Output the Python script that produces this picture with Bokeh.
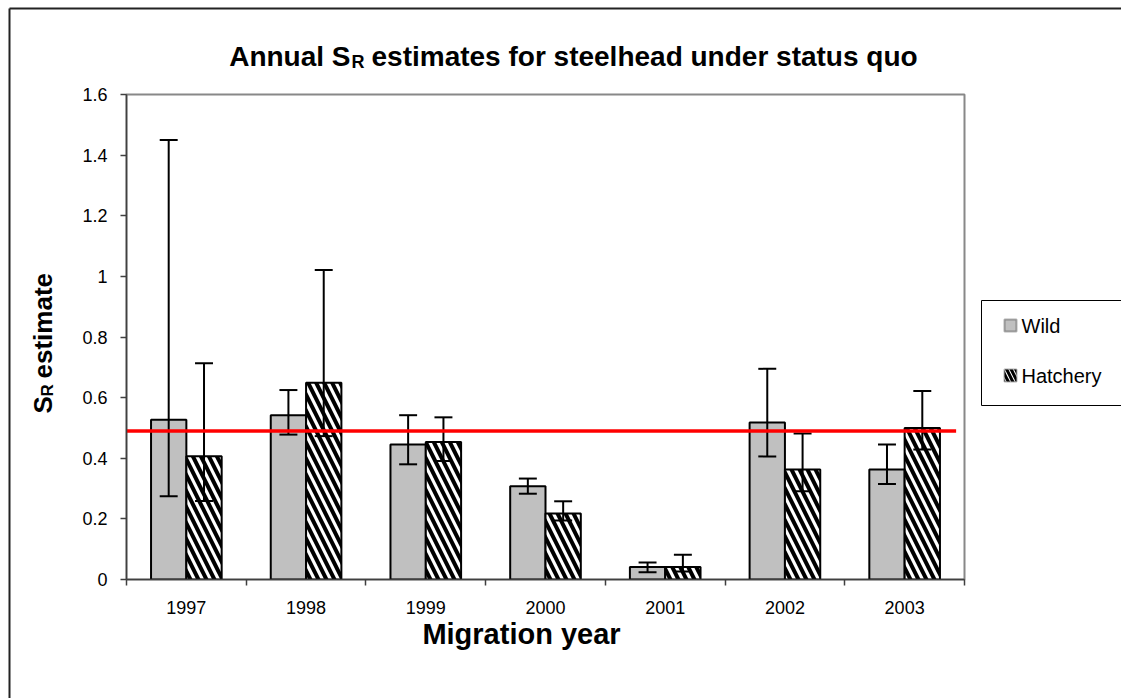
import math
from bokeh.plotting import figure
from bokeh.models import Range1d, FixedTicker, NumeralTickFormatter, Label, BoxAnnotation
from bokeh.embed import file_html
from bokeh.resources import INLINE

# ---------------- data ----------------
years = ["1997", "1998", "1999", "2000", "2001", "2002", "2003"]
wild = [0.527, 0.542, 0.445, 0.308, 0.041, 0.518, 0.363]
wild_lo = [0.275, 0.478, 0.380, 0.283, 0.024, 0.406, 0.315]
wild_hi = [1.45, 0.625, 0.542, 0.333, 0.056, 0.695, 0.445]
hatch = [0.407, 0.649, 0.454, 0.218, 0.041, 0.363, 0.500]
hatch_lo = [0.259, 0.473, 0.391, 0.195, 0.026, 0.291, 0.429]
hatch_hi = [0.713, 1.021, 0.535, 0.258, 0.082, 0.482, 0.622]
reference_level = 0.49
y_ticks = [0, 0.2, 0.4, 0.6, 0.8, 1.0, 1.2, 1.4, 1.6]
series_names = ["Wild", "Hatchery"]
title_parts = ["Annual S", "R", "estimates for steelhead under status quo"]
x_title = "Migration year"
y_title_parts = ["S", "R", "estimate"]

FONT = "Liberation Sans"
W, H = 1121, 698

# ---------------- background figure: titles, legend, chart border ----------------
bg = figure(width=W, height=H, output_backend="svg", toolbar_location=None,
            x_range=Range1d(0, W), y_range=Range1d(H, 0),
            min_border=0, min_border_left=0, min_border_right=0,
            min_border_top=0, min_border_bottom=0,
            styles={"position": "absolute", "left": "0px", "top": "0px"})
bg.axis.visible = False
bg.grid.visible = False
bg.outline_line_color = None
bg.background_fill_color = "white"
bg.border_fill_color = "white"

# chart-area border (only left and top edges fall inside the window)
bg.segment(x0=[9, 9], y0=[8, 8], x1=[9, 1400], y1=[900, 8],
           line_color="#222222", line_width=2)

# chart title with subscript
bg.add_layout(Label(x=350, y=56, text=title_parts[0], text_align="right",
                    text_baseline="alphabetic", text_font=FONT, text_font_style="bold",
                    text_font_size="28px", text_color="black"))
bg.add_layout(Label(x=351, y=61, text=title_parts[1], text_align="left",
                    text_baseline="alphabetic", text_font=FONT, text_font_style="bold",
                    text_font_size="18px", text_color="black"))
bg.add_layout(Label(x=371, y=56, text=title_parts[2], text_align="left",
                    text_baseline="alphabetic", text_font=FONT, text_font_style="bold",
                    text_font_size="28px", text_color="black"))

# x axis title
bg.add_layout(Label(x=521, y=633, text=x_title, text_align="center", text_baseline="middle",
                    text_font=FONT, text_font_style="bold", text_font_size="29px",
                    text_color="black"))

# y axis title (rotated) with subscript
bg.add_layout(Label(x=42, y=413, text=y_title_parts[0], text_align="left",
                    text_baseline="alphabetic", angle=math.pi / 2, text_font=FONT,
                    text_font_style="bold", text_font_size="26px", text_color="black"))
bg.add_layout(Label(x=47, y=396, text=y_title_parts[1], text_align="left",
                    text_baseline="alphabetic", angle=math.pi / 2, text_font=FONT,
                    text_font_style="bold", text_font_size="17px", text_color="black"))
bg.add_layout(Label(x=42, y=378, text=y_title_parts[2], text_align="left",
                    text_baseline="alphabetic", angle=math.pi / 2, text_font=FONT,
                    text_font_style="bold", text_font_size="26px", text_color="black"))

# legend frame (left, top, bottom edges) and entries
bg.segment(x0=[981, 981, 981], y0=[300, 300, 405], x1=[981, 1400, 1400], y1=[405, 300, 405],
           line_color="black", line_width=1)
bg.add_layout(BoxAnnotation(left=1004, right=1016, top=319, bottom=331,
                            fill_color="#C0C0C0", fill_alpha=1, line_color="black", line_width=2))
bg.add_layout(BoxAnnotation(left=1004, right=1016, top=369, bottom=381,
                            fill_color="white", fill_alpha=1, line_color="black", line_width=2,
                            hatch_pattern="\\", hatch_color="black", hatch_scale=9,
                            hatch_weight=3))
bg.add_layout(Label(x=1021, y=325, text=series_names[0], text_align="left",
                    text_baseline="middle", text_font=FONT, text_font_size="20px",
                    text_color="black"))
bg.add_layout(Label(x=1021, y=375, text=series_names[1], text_align="left",
                    text_baseline="middle", text_font=FONT, text_font_size="20px",
                    text_color="black"))

# ---------------- main plot (overlaid) ----------------
FL, FT, FR, FB = 126, 94, 964, 579
p = figure(width=W, height=H, output_backend="svg", toolbar_location=None,
           x_range=Range1d(0, len(years)), y_range=Range1d(0, 1.6),
           min_border_left=FL, min_border_top=FT,
           min_border_right=W - FR, min_border_bottom=H - FB,
           styles={"position": "absolute", "left": "0px", "top": "0px"})
p.background_fill_alpha = 0
p.border_fill_alpha = 0
p.outline_line_color = "#888888"
p.outline_line_width = 2
p.xgrid.visible = False
p.ygrid.visible = False

n = len(years)
bw = 0.295
xc = [i + 0.5 for i in range(n)]
xw = [c - bw / 2 for c in xc]
xh = [c + bw / 2 for c in xc]

p.vbar(x=xw, top=wild, bottom=0, width=bw, fill_color="#C0C0C0",
       line_color="black", line_width=2)
p.vbar(x=xh, top=hatch, bottom=0, width=bw, fill_color="white",
       line_color="black", line_width=2, hatch_pattern="\\",
       hatch_color="black", hatch_scale=16, hatch_weight=4)

cap = 0.075
for xs, lo, hi in ((xw, wild_lo, wild_hi), (xh, hatch_lo, hatch_hi)):
    p.segment(x0=xs, y0=lo, x1=xs, y1=hi, line_color="black", line_width=2)
    p.segment(x0=[x - cap for x in xs], y0=hi, x1=[x + cap for x in xs], y1=hi,
              line_color="black", line_width=2)
    p.segment(x0=[x - cap for x in xs], y0=lo, x1=[x + cap for x in xs], y1=lo,
              line_color="black", line_width=2)

p.segment(x0=[-0.03], y0=[reference_level], x1=[6.93], y1=[reference_level],
          line_color="#FF0000", line_width=3.5)

ya = p.yaxis[0]
ya.ticker = FixedTicker(ticks=y_ticks)
ya.formatter = NumeralTickFormatter(format="0.[0]")
ya.major_tick_out = 6
ya.major_tick_in = 0
ya.minor_tick_out = 0
ya.minor_tick_in = 0
ya.axis_line_color = "#404040"
ya.axis_line_width = 1.5
ya.major_tick_line_color = "#404040"
ya.major_tick_line_width = 1.5
ya.major_label_standoff = 13
ya.major_label_text_font = FONT
ya.major_label_text_font_size = "18px"
ya.major_label_text_color = "black"

xa = p.xaxis[0]
xa.ticker = FixedTicker(ticks=xc, minor_ticks=list(range(n + 1)))
xa.major_label_overrides = {c: y for c, y in zip(xc, years)}
xa.major_tick_out = 0
xa.major_tick_in = 0
xa.minor_tick_out = 6
xa.minor_tick_in = 0
xa.axis_line_color = "#404040"
xa.axis_line_width = 1.5
xa.minor_tick_line_color = "#404040"
xa.minor_tick_line_width = 1.5
xa.major_label_standoff = 15
xa.major_label_text_font = FONT
xa.major_label_text_font_size = "18px"
xa.major_label_text_color = "black"

open("out.html", "w").write(file_html([bg, p], INLINE))
